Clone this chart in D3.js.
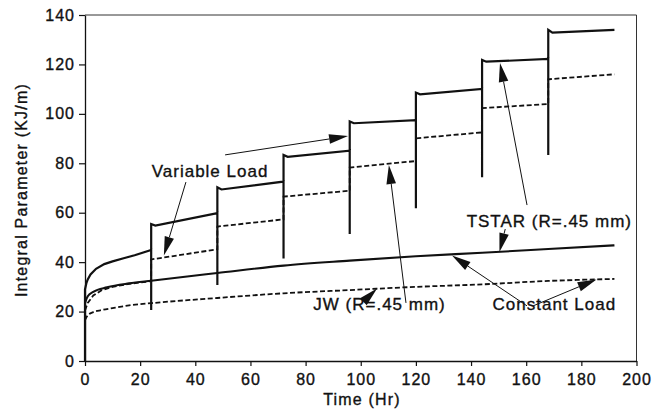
<!DOCTYPE html>
<html><head><meta charset="utf-8">
<script src="https://cdn.jsdelivr.net/npm/d3@7"></script>
<style>
html,body{margin:0;padding:0;background:#fff;}
svg text{font-family:"Liberation Sans",Arial,Helvetica,sans-serif;fill:#111;stroke:#111;stroke-width:0.35px;}
</style></head><body>
<svg id="chart" width="653" height="414"></svg>
<script>
// ---- data (time in hours, integral parameter in KJ/m) ----
const xTicks = [0, 20, 40, 60, 80, 100, 120, 140, 160, 180, 200];
const yTicks = [0, 20, 40, 60, 80, 100, 120, 140];

// variable load, TSTAR: first load block (starts from zero at t=0)
const tstarVarFirstT = [0, 0, 0.5, 1, 2, 4, 7, 10, 14, 18, 24];
const tstarVarFirstV = [0, 29.0, 31.5, 33.0, 35.0, 37.3, 39.2, 40.3, 41.6, 42.8, 44.9];
// reload instants and the unload/reload excursions
const reloadTimes   = [24, 48, 72, 96, 120, 144, 168];
const unloadLow     = [20.6, 30.8, 41.5, 51.4, 61.8, 74.3, 83.4];
const tstarVarPeak  = [55.4, 70.3, 83.4, 96.9, 108.6, 121.8, 134.0];
const tstarVarDip   = [54.8, 69.4, 82.6, 96.2, 107.9, 121.1, 132.9];
const tstarVarEnd   = [59.8, 72.6, 85.1, 97.5, 110.1, 122.2, 134.0];

// variable load, JW
const jwVarFirstT = [0, 1, 3, 6, 10, 16, 24];
const jwVarFirstV = [20.5, 23.5, 26.5, 28.6, 30.0, 31.2, 32.3];
const jwVarStart  = [41.1, 54.4, 66.5, 78.3, 90.1, 102.3, 114.0];
const jwVarEnd    = [45.2, 57.3, 68.9, 80.9, 92.5, 104.0, 116.0];

// constant load
const tstarConstT = [0, 1, 3, 8, 16, 24, 48, 72, 96, 120, 144, 168, 192];
const tstarConstV = [23.5, 26.2, 28.0, 29.8, 31.4, 32.5, 35.6, 38.6, 40.6, 42.4, 43.8, 45.3, 46.8];
const jwConstT = [0, 1, 3, 6, 10, 16, 24, 48, 72, 96, 120, 144, 168, 192];
const jwConstV = [16.5, 18.5, 19.8, 20.6, 21.4, 22.5, 23.4, 25.5, 27.4, 28.7, 30.0, 31.0, 32.4, 33.2];

const segLength = 24;
const dipOffset = 1.5;

// ---- layout ----
const svg = d3.select("#chart");
const x = d3.scaleLinear().domain([0, 200]).range([85, 636.5]);
const y = d3.scaleLinear().domain([0, 140]).range([361, 15]);
const ink = "#111";

// frame (top and right edges)
svg.append("line").attr("x1", x(0)).attr("x2", x(200)).attr("y1", y(140)).attr("y2", y(140))
  .attr("stroke", "#333").attr("stroke-width", 1);
svg.append("line").attr("x1", x(200)).attr("x2", x(200)).attr("y1", y(0)).attr("y2", y(140))
  .attr("stroke", "#333").attr("stroke-width", 1);

// axes
const gx = svg.append("g").attr("transform", `translate(0,${y(0)})`)
  .call(d3.axisBottom(x).tickValues(xTicks).tickSize(5).tickSizeOuter(0).tickPadding(8));
const gy = svg.append("g").attr("transform", `translate(${x(0)},0)`)
  .call(d3.axisLeft(y).tickValues(yTicks).tickSize(6).tickSizeOuter(0).tickPadding(4));
[gx, gy].forEach(g => {
  g.select(".domain").attr("stroke", ink).attr("stroke-width", 1.3);
  g.selectAll(".tick line").attr("stroke", ink).attr("stroke-width", 1.2);
  g.selectAll(".tick text").attr("fill", ink).style("font-size", "16px")
    .style("font-family", "'Liberation Sans', Arial, sans-serif").style("letter-spacing", "1px");
});

// axis titles
svg.append("text").attr("x", 362).attr("y", 405).attr("text-anchor", "middle")
  .style("font-size", "16px").style("letter-spacing", "1.2px").text("Time (Hr)");
svg.append("text").attr("transform", "translate(27,190) rotate(-90)").attr("text-anchor", "middle")
  .style("font-size", "16px").style("letter-spacing", "1.2px").text("Integral Parameter (KJ/m)");

// ---- curves ----
const line = d3.line().x(d => x(d[0])).y(d => y(d[1]));
const smooth = d3.line().x(d => x(d[0])).y(d => y(d[1])).curve(d3.curveMonotoneX);

// variable load TSTAR: first block, then unload/reload spikes and blocks
const tstarVar = tstarVarFirstT.map((t, i) => [t, tstarVarFirstV[i]]);
reloadTimes.forEach((t0, i) => {
  tstarVar.push([t0, unloadLow[i]]);
  tstarVar.push([t0, tstarVarPeak[i]]);
  tstarVar.push([t0 + dipOffset, tstarVarDip[i]]);
  tstarVar.push([t0 + segLength, tstarVarEnd[i]]);
});

// variable load JW
const jwVar = jwVarFirstT.map((t, i) => [t, jwVarFirstV[i]]);
reloadTimes.forEach((t0, i) => {
  jwVar.push([t0, jwVarStart[i]]);
  jwVar.push([t0 + segLength, jwVarEnd[i]]);
});

const tstarConst = tstarConstT.map((t, i) => [t, tstarConstV[i]]);
const jwConst = jwConstT.map((t, i) => [t, jwConstV[i]]);

const dash = "5,2.5";
svg.append("path").attr("d", smooth(jwConst)).attr("fill", "none")
  .attr("stroke", ink).attr("stroke-width", 1.8).attr("stroke-dasharray", dash);
svg.append("path").attr("d", line(jwVar)).attr("fill", "none")
  .attr("stroke", ink).attr("stroke-width", 1.8).attr("stroke-dasharray", dash);
svg.append("path").attr("d", smooth(tstarConst)).attr("fill", "none")
  .attr("stroke", ink).attr("stroke-width", 2.1);
svg.append("path").attr("d", line(tstarVar)).attr("fill", "none")
  .attr("stroke", ink).attr("stroke-width", 2.2).attr("stroke-linejoin", "miter");

// ---- annotations ----
const labels = [
  { text: "Variable Load",    t: 24.2,  v: 74.6 },
  { text: "TSTAR (R=.45 mm)", t: 138.4, v: 54.3 },
  { text: "JW (R=.45 mm)",    t: 82.8,  v: 20.6 },
  { text: "Constant Load",    t: 147.8, v: 20.6 }
];
svg.selectAll("text.note").data(labels).enter().append("text").attr("class", "note")
  .attr("x", d => x(d.t)).attr("y", d => y(d.v))
  .style("font-size", "17px").style("letter-spacing", "1px").text(d => d.text);

// arrows: tail -> tip, in data units
const arrows = [
  { from: [36.6, 72.4],  to: [28.6, 42.7] },
  { from: [50.8, 83.4],  to: [95.4, 91.0] },
  { from: [160.3, 63.1], to: [150.5, 120.6] },
  { from: [152.4, 53.4], to: [150.3, 44.1] },
  { from: [100.6, 23.6], to: [105.9, 29.3] },
  { from: [116.4, 23.5], to: [110.2, 79.3] },
  { from: [160.3, 22.3], to: [133.1, 42.7] },
  { from: [162.5, 22.3], to: [185.5, 33.0] }
];
const headLen = 19, headHalf = 4.8;
arrows.forEach(a => {
  const x1 = x(a.from[0]), y1 = y(a.from[1]);
  const x2 = x(a.to[0]), y2 = y(a.to[1]);
  const dx = x2 - x1, dy = y2 - y1, len = Math.hypot(dx, dy);
  const ux = dx / len, uy = dy / len;
  const bx = x2 - ux * headLen, by = y2 - uy * headLen;
  svg.append("line").attr("x1", x1).attr("y1", y1).attr("x2", bx).attr("y2", by)
    .attr("stroke", ink).attr("stroke-width", 1);
  const pts = [[x2, y2], [bx - uy * headHalf, by + ux * headHalf], [bx + uy * headHalf, by - ux * headHalf]];
  svg.append("polygon").attr("points", pts.map(p => p.join(",")).join(" ")).attr("fill", ink);
});
</script>
</body></html>
